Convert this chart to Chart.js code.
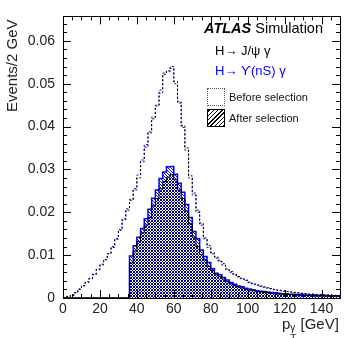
<!DOCTYPE html>
<html>
<head>
<meta charset="utf-8">
<script src="https://cdn.jsdelivr.net/npm/chart.js@4/dist/chart.umd.min.js"></script>
<style>
    html, body { margin:0; padding:0; background:#fff; }
    #wrap { position:relative; width:344px; height:338px; font-family:"Liberation Sans", Arial, sans-serif; }
    #c { position:absolute; left:0; top:0; }
    .lbl { position:absolute; white-space:nowrap; line-height:1; }
    .box { position:absolute; width:18px; height:18px; box-sizing:border-box; }
</style>
</head>
<body>
<div id="wrap">
    <canvas id="c" width="344" height="338"></canvas>
    <div class="lbl" id="ytitle" style="left:4px;top:3px;font-size:15px;color:#222;transform-origin:0 0;transform:translate(0,109px) rotate(-90deg)">Events/2 GeV</div>
    <div class="lbl" style="left:282px;top:316px;font-size:15px;color:#222">p<span style="display:inline-block;position:relative;width:6px"><span style="position:absolute;left:0;top:-6px;font-size:10px">γ</span><span style="position:absolute;left:0;top:5px;font-size:10px">T</span></span>&nbsp;[GeV]</div>
    <div class="lbl" style="left:204px;top:21px;font-size:14.5px;color:#000"><b><i>ATLAS</i></b> Simulation</div>
    <div class="lbl" style="left:215px;top:44px;font-size:13px;color:#000">H→ J/ψ γ</div>
    <div class="lbl" style="left:215px;top:64px;font-size:13px;color:#0000ff">H→ ϒ(nS) γ</div>
    <div class="box" style="left:207px;top:88px;border:1px dotted #555"></div>
    <div class="lbl" style="left:229px;top:92px;font-size:11px;color:#111">Before selection</div>
    <div class="box" id="hatchBox" style="left:207px;top:109px;border:1px solid #000"></div>
    <div class="lbl" style="left:229px;top:113px;font-size:11px;color:#111">After selection</div>
</div>
<script>
// pT(gamma) histograms, 2 GeV bins from 0 to 150 GeV
const BIN_WIDTH = 2;
const X_MIN = 0, X_MAX = 150;
const Y_MAX = 0.0657;
const xTickStep = 20;
const yTickStep = 0.01;

const jpsiBefore = [
    0.0001, 0.0003, 0.0006, 0.0012, 0.0020, 0.0028, 0.0036, 0.0045, 0.0054, 0.0066,
    0.0077, 0.0089, 0.0103, 0.0118, 0.0137, 0.0158, 0.0182, 0.0205, 0.0228, 0.0252,
    0.0280, 0.0318, 0.0352, 0.0385, 0.0418, 0.0448, 0.0478, 0.0522, 0.0530, 0.0540,
    0.0505, 0.0458, 0.0402, 0.0350, 0.0285, 0.0245, 0.0205, 0.0175, 0.0140, 0.0122,
    0.0106, 0.0096, 0.0088, 0.0080, 0.0068, 0.0062, 0.0056, 0.0050, 0.0046, 0.0042,
    0.0037, 0.0034, 0.0031, 0.0028, 0.0026, 0.0024, 0.0022, 0.0020, 0.0018, 0.0017,
    0.0015, 0.0014, 0.0013, 0.0012, 0.0011, 0.0010, 0.0009, 0.0009, 0.0008, 0.0008,
    0.0007, 0.0007, 0.0006, 0.0006, 0.0006
];
const upsBefore = [
    0.0001, 0.0004, 0.0007, 0.0013, 0.0021, 0.0029, 0.0038, 0.0046, 0.0056, 0.0067,
    0.0079, 0.0090, 0.0104, 0.0120, 0.0139, 0.0160, 0.0185, 0.0208, 0.0230, 0.0255,
    0.0287, 0.0322, 0.0358, 0.0388, 0.0422, 0.0450, 0.0485, 0.0525, 0.0528, 0.0536,
    0.0500, 0.0455, 0.0398, 0.0345, 0.0280, 0.0240, 0.0200, 0.0170, 0.0138, 0.0118,
    0.0103, 0.0093, 0.0085, 0.0077, 0.0066, 0.0060, 0.0054, 0.0049, 0.0045, 0.0041,
    0.0036, 0.0033, 0.0030, 0.0027, 0.0025, 0.0023, 0.0021, 0.0019, 0.0018, 0.0016,
    0.0015, 0.0014, 0.0013, 0.0012, 0.0011, 0.0010, 0.0009, 0.0009, 0.0008, 0.0008,
    0.0007, 0.0007, 0.0006, 0.0006, 0.0005
];
const jpsiAfter = [
    0, 0, 0, 0, 0, 0, 0, 0, 0, 0,
    0, 0, 0, 0, 0, 0, 0, 0, 0.0082, 0.0110,
    0.0132, 0.0152, 0.0170, 0.0188, 0.0215, 0.0232, 0.0255, 0.0272, 0.0282, 0.0288,
    0.0276, 0.0252, 0.0232, 0.0203, 0.0173, 0.0142, 0.0120, 0.0101, 0.0089, 0.0074,
    0.0064, 0.0054, 0.0050, 0.0044, 0.0038, 0.0033, 0.0029, 0.0026, 0.0023, 0.0020,
    0.0018, 0.0017, 0.0015, 0.0014, 0.0013, 0.0012, 0.0011, 0.0010, 0.0009, 0.0009,
    0.0008, 0.0008, 0.0007, 0.0007, 0.0006, 0.0006, 0.0006, 0.0005, 0.0005, 0.0005,
    0.0005, 0.0004, 0.0004, 0.0004, 0.0004
];
const upsAfter = [
    0, 0, 0, 0, 0, 0, 0, 0, 0, 0,
    0, 0, 0, 0, 0, 0, 0, 0, 0.0098, 0.0122,
    0.0142, 0.0162, 0.0185, 0.0207, 0.0233, 0.0252, 0.0279, 0.0294, 0.0306, 0.0307,
    0.0289, 0.0268, 0.0247, 0.0218, 0.0188, 0.0155, 0.0138, 0.0112, 0.0097, 0.0083,
    0.0068, 0.0058, 0.0054, 0.0048, 0.0042, 0.0036, 0.0032, 0.0028, 0.0026, 0.0023,
    0.0021, 0.0019, 0.0017, 0.0016, 0.0015, 0.0014, 0.0013, 0.0012, 0.0011, 0.0010,
    0.0010, 0.0009, 0.0009, 0.0008, 0.0008, 0.0007, 0.0007, 0.0007, 0.0006, 0.0006,
    0.0006, 0.0006, 0.0005, 0.0005, 0.0005
];

// histogram -> stepped points (lower edges + closing point at last upper edge)
function toSteps(vals) {
    const pts = vals.map((v, i) => ({ x: X_MIN + i * BIN_WIDTH, y: v }));
    pts.push({ x: X_MIN + vals.length * BIN_WIDTH, y: vals[vals.length - 1] });
    return pts;
}

// pixel hatch: dir 1 = "/", dir -1 = "\"
function hatch(color, dir, period) {
    const c = document.createElement('canvas');
    c.width = period; c.height = period;
    const g = c.getContext('2d');
    g.fillStyle = color;
    for (let x = 0; x < period; x++) {
        for (let y = 0; y < period; y++) {
            const k = dir > 0 ? (x + y) % period : ((x - y) % period + period) % period;
            if (k === 0) g.fillRect(x, y, 1, 1);
        }
    }
    return g.createPattern(c, 'repeat');
}

document.getElementById('hatchBox').style.background =
    'repeating-linear-gradient(-45deg, #000 0 1px, #fff 1px 3px)';

const ctx = document.getElementById('c').getContext('2d');
const blackHatch = hatch('#000033', 1, 3);
const blueHatch  = hatch('#0000ff', -1, 3);

// ROOT-style frame with inward ticks on all four sides
const frameTicks = {
    id: 'frameTicks',
    afterDatasetsDraw(chart) {
        const { ctx: g, chartArea: a, scales: { x, y } } = chart;
        g.save();
        g.strokeStyle = '#000';
        g.lineWidth = 1;
        g.beginPath();
        for (let v = X_MIN; v <= X_MAX; v += 5) {
            const px = Math.round(x.getPixelForValue(v)) + 0.5;
            const len = v % 20 === 0 ? 8 : 4;
            g.moveTo(px, a.bottom); g.lineTo(px, a.bottom - len);
            g.moveTo(px, a.top);    g.lineTo(px, a.top + len);
        }
        for (let i = 0; i * 0.002 <= Y_MAX; i++) {
            const py = Math.round(y.getPixelForValue(i * 0.002)) + 0.5;
            const len = i % 5 === 0 ? 8 : 4;
            g.moveTo(a.left, py);  g.lineTo(a.left + len, py);
            g.moveTo(a.right, py); g.lineTo(a.right - len, py);
        }
        g.stroke();
        g.strokeRect(Math.round(a.left) + 0.5, Math.round(a.top) + 0.5,
                     Math.round(a.right - a.left), Math.round(a.bottom - a.top));
        g.restore();
    }
};

// 'before': horizontal at the bin value up to the next edge, then vertical
const common = { stepped: 'before', pointRadius: 0, tension: 0 };

new Chart(ctx, {
    type: 'line',
    data: {
        datasets: [
            { ...common, label: 'J/psi before', data: toSteps(jpsiBefore), borderColor: '#000', borderWidth: 1, borderDash: [2, 2], fill: false },
            { ...common, label: 'Upsilon before', data: toSteps(upsBefore), borderColor: '#0000ff', borderWidth: 1, borderDash: [2, 2], fill: false },
            { ...common, label: 'J/psi after', data: toSteps(jpsiAfter), borderColor: '#000', borderWidth: 1, fill: 'origin', backgroundColor: blackHatch },
            { ...common, label: 'Upsilon after', data: toSteps(upsAfter), borderColor: '#0000ff', borderWidth: 1.5, fill: 'origin', backgroundColor: blueHatch },
        ]
    },
    options: {
        responsive: false,
        animation: false,
        devicePixelRatio: 1,
        layout: { padding: { top: 9, right: 4, left: 0, bottom: 0 } },
        plugins: { legend: { display: false }, tooltip: { enabled: false } },
        scales: {
            x: {
                type: 'linear', min: X_MIN, max: X_MAX,
                afterFit: s => { s.height = 40; },
                border: { display: false },
                grid: { display: false, drawTicks: false },
                ticks: { stepSize: xTickStep, includeBounds: false, padding: 3, color: '#222', maxRotation: 0,
                         font: { family: '"Liberation Sans", Arial, sans-serif', size: 14 } }
            },
            y: {
                type: 'linear', min: 0, max: Y_MAX,
                afterFit: s => { s.width = 63; },
                border: { display: false },
                grid: { display: false, drawTicks: false },
                ticks: { stepSize: yTickStep, includeBounds: false, padding: 8, color: '#222',
                         callback: v => v === 0 ? '0' : v.toFixed(2),
                         font: { family: '"Liberation Sans", Arial, sans-serif', size: 14 } }
            }
        }
    },
    plugins: [frameTicks]
});
</script>
</body>
</html>
